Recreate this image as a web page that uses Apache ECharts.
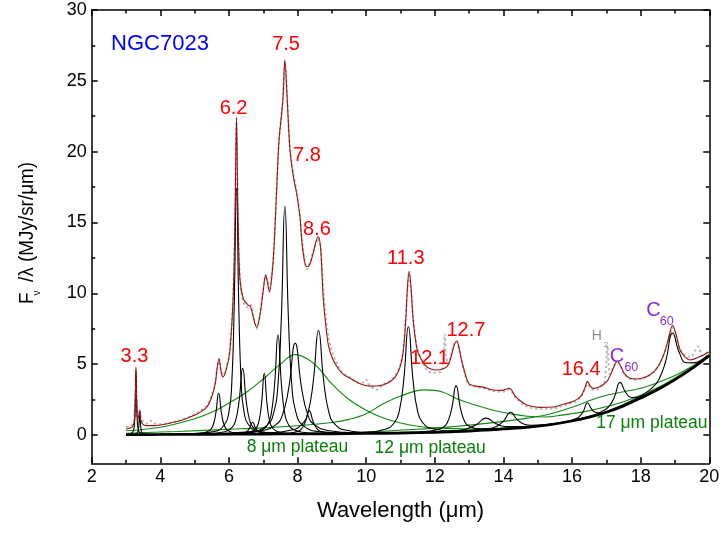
<!DOCTYPE html>
<html><head><meta charset="utf-8">
<script src="https://cdn.jsdelivr.net/npm/echarts@6/dist/echarts.min.js"></script>
<style>html,body{margin:0;padding:0;background:#fff}#c{width:720px;height:535px}</style>
</head><body><div id="c"></div>
<script>
// ---------- data ----------
const yMajorTicks = [0, 5, 10, 15, 20, 25, 30];
const yMinorTicks = [2.5, 7.5, 12.5, 17.5, 22.5, 27.5];

const observed = [[3.0,0.55],[3.1,0.62],[3.2,0.8],[3.25,1.5],[3.27,2.9],[3.29,4.7],[3.31,2.6],[3.34,1.3],[3.38,1.45],[3.40,1.8],[3.43,1.25],[3.5,0.95],[3.6,0.8],[3.7,1.0],[3.8,0.9],[3.9,0.75],[4.2,0.82],[4.5,0.98],[4.87,1.3],[5.1,1.6],[5.35,2.1],[5.5,2.8],[5.6,3.7],[5.65,4.6],[5.71,5.2],[5.77,4.5],[5.82,4.2],[5.92,4.7],[6.03,6.1],[6.13,10.2],[6.18,16],[6.22,22.3],[6.26,16],[6.32,11],[6.42,9.4],[6.56,9.0],[6.63,9.2],[6.72,8.3],[6.81,7.5],[6.9,8.5],[7.0,10.3],[7.07,11.2],[7.12,10.9],[7.18,10.2],[7.25,11.3],[7.31,13.1],[7.39,17.4],[7.46,20.8],[7.57,23.6],[7.63,26.3],[7.70,23.6],[7.78,20.2],[7.88,18.4],[7.97,17.2],[8.07,15.5],[8.12,14.0],[8.2,12.4],[8.27,11.7],[8.35,12.1],[8.45,12.9],[8.53,13.5],[8.6,13.9],[8.67,13.3],[8.75,10.2],[8.82,8.4],[8.9,6.9],[9.0,5.9],[9.14,5.1],[9.3,4.4],[9.53,4.05],[9.75,3.7],[9.92,3.7],[10.0,3.9],[10.1,3.5],[10.3,3.2],[10.5,3.6],[10.69,3.8],[10.85,4.2],[10.99,4.9],[11.08,6.0],[11.15,8.1],[11.2,10.2],[11.25,11.4],[11.3,10.5],[11.37,8.2],[11.45,6.6],[11.52,5.9],[11.76,4.6],[11.9,4.4],[12.06,4.4],[12.2,4.5],[12.26,5.6],[12.29,7.1],[12.33,5.6],[12.4,5.0],[12.47,5.6],[12.56,6.4],[12.64,6.6],[12.71,6.0],[12.78,5.2],[12.9,4.1],[13.0,3.55],[13.2,3.4],[13.41,3.3],[13.7,3.1],[13.95,3.05],[14.17,3.2],[14.34,2.7],[14.5,2.3],[14.68,2.0],[15.06,1.85],[15.45,1.85],[15.65,2.0],[16.04,2.3],[16.25,2.65],[16.37,3.2],[16.45,3.6],[16.53,3.35],[16.62,3.2],[16.8,3.3],[16.95,3.8],[17.03,6.3],[17.1,4.3],[17.2,4.8],[17.32,5.1],[17.42,4.8],[17.52,4.3],[17.69,3.95],[17.9,3.9],[18.18,4.1],[18.4,4.5],[18.56,5.0],[18.72,6.0],[18.85,7.1],[18.93,7.6],[19.02,7.1],[19.15,6.0],[19.3,5.6],[19.44,5.5],[19.6,6.0],[19.68,6.25],[19.8,5.6],[20.0,5.95]];

const totalFit = [[3.0,0.42],[3.1,0.48],[3.2,0.62],[3.25,1.1],[3.27,2.4],[3.29,4.78],[3.31,2.4],[3.34,1.15],[3.37,1.3],[3.40,1.75],[3.43,1.1],[3.48,0.78],[3.6,0.66],[3.8,0.66],[4.0,0.7],[4.3,0.85],[4.6,1.02],[4.87,1.28],[5.1,1.52],[5.35,1.95],[5.5,2.7],[5.6,3.6],[5.65,4.6],[5.71,5.4],[5.77,4.5],[5.82,4.1],[5.92,4.6],[6.03,6.0],[6.13,10.2],[6.18,16],[6.22,22.4],[6.26,16],[6.32,11],[6.42,9.6],[6.56,9.17],[6.63,9.05],[6.72,8.2],[6.81,7.6],[6.9,8.4],[7.0,10.2],[7.07,11.3],[7.12,10.8],[7.18,10.1],[7.25,11.2],[7.31,13.05],[7.39,17.3],[7.46,20.8],[7.57,23.6],[7.63,26.46],[7.70,23.6],[7.78,20.1],[7.88,18.2],[7.97,17.1],[8.07,15.4],[8.12,13.8],[8.2,12.3],[8.27,11.88],[8.35,12.0],[8.45,12.8],[8.53,13.6],[8.6,14.0],[8.67,13.2],[8.75,9.6],[8.82,7.8],[8.9,6.3],[9.0,5.5],[9.14,4.85],[9.3,4.35],[9.53,4.0],[9.75,3.7],[9.92,3.53],[10.1,3.45],[10.31,3.46],[10.5,3.55],[10.69,3.76],[10.85,4.1],[10.99,4.82],[11.08,5.9],[11.15,8.0],[11.2,10.3],[11.25,11.55],[11.3,10.6],[11.37,8.1],[11.45,6.5],[11.52,5.76],[11.76,4.82],[12.06,4.59],[12.35,4.82],[12.47,5.5],[12.56,6.3],[12.64,6.63],[12.71,6.1],[12.78,5.29],[12.9,4.2],[13.0,3.6],[13.2,3.45],[13.41,3.38],[13.7,3.18],[13.95,3.15],[14.17,3.3],[14.34,2.75],[14.5,2.4],[14.68,2.12],[15.06,1.95],[15.45,1.97],[15.65,2.1],[16.04,2.38],[16.25,2.72],[16.37,3.3],[16.45,3.78],[16.53,3.45],[16.62,3.29],[16.8,3.4],[17.01,3.76],[17.15,4.4],[17.32,5.2],[17.42,4.85],[17.52,4.35],[17.69,4.0],[17.9,3.95],[18.18,4.12],[18.4,4.5],[18.56,5.06],[18.72,6.0],[18.85,7.2],[18.93,7.75],[19.02,7.2],[19.15,6.0],[19.3,5.5],[19.44,5.29],[19.7,5.5],[20.0,5.88]];

const continuum = [[3,0.02],[4,0.03],[5,0.04],[6,0.05],[7,0.06],[8,0.07],[9,0.08],[10,0.1],[11,0.13],[12,0.18],[12.5,0.22],[13,0.27],[13.5,0.34],[14,0.42],[14.5,0.5],[15,0.62],[15.5,0.78],[16,0.98],[16.5,1.25],[17,1.6],[17.5,2.05],[18,2.6],[18.5,3.2],[19,3.9],[19.5,4.7],[20,5.6]];

const plateau8 = [[3.0,0.3],[4.0,0.55],[5.0,1.15],[5.5,1.6],[6.0,2.25],[6.5,3.0],[7.0,3.95],[7.5,5.0],[7.93,5.67],[8.3,5.35],[8.6,4.75],[9.0,3.6],[9.5,2.5],[10.0,1.75],[10.5,1.2],[11.0,0.85],[11.5,0.62],[12.0,0.5],[13.0,0.42],[14.0,0.5],[15.0,0.68],[16.0,1.02],[17.0,1.63],[18.0,2.62],[19.0,3.92],[20.0,5.62]];
const plateau12 = [[3.0,0.12],[4.5,0.25],[6.0,0.4],[7.0,0.5],[8.0,0.65],[9.0,0.88],[9.5,1.1],[10.0,1.5],[10.5,2.2],[11.0,2.75],[11.7,3.18],[12.2,3.05],[12.7,2.5],[13.2,2.1],[13.7,1.75],[14.2,1.5],[14.7,1.32],[15.2,1.27],[15.7,1.4],[16.5,1.72],[17.5,2.35],[18.5,3.35],[19.5,4.8],[20.0,5.68]];
const plateau17 = [[3.0,0.03],[6.0,0.06],[9.0,0.12],[11.5,0.4],[12.5,0.58],[13.5,0.82],[14.5,1.12],[15.3,1.45],[16.0,1.95],[16.6,2.5],[17.0,2.8],[17.5,3.05],[18.0,3.3],[18.5,3.7],[19.0,4.2],[19.5,4.85],[20.0,5.65]];

const band329 = [[3.0,0.04],[3.09,0.065],[3.19,0.19],[3.23,0.47],[3.25,0.92],[3.27,2.27],[3.29,4.52],[3.31,2.27],[3.33,0.92],[3.35,0.47],[3.39,0.19],[3.49,0.065],[3.69,0.03]];
const band340 = [[3.0,0.024],[3.2,0.036],[3.3,0.084],[3.34,0.185],[3.36,0.35],[3.38,0.845],[3.40,1.67],[3.42,0.845],[3.44,0.35],[3.46,0.185],[3.50,0.084],[3.60,0.036],[3.80,0.024]];
const band570 = [[4.0,0.057],[4.85,0.079],[5.275,0.16],[5.445,0.34],[5.53,0.63],[5.615,1.5],[5.70,2.95],[5.785,1.5],[5.87,0.63],[5.955,0.34],[6.125,0.16],[6.55,0.079],[7.4,0.057]];
const band622 = [[4.82,0.09],[5.52,0.22],[5.87,0.72],[6.01,1.79],[6.08,3.53],[6.15,8.75],[6.22,17.45],[6.29,8.75],[6.36,3.53],[6.43,1.79],[6.57,0.72],[6.92,0.22],[7.62,0.09]];
const band640 = [[4.3,0.062],[5.35,0.096],[5.875,0.23],[6.085,0.515],[6.19,0.98],[6.295,2.375],[6.40,4.70],[6.505,2.375],[6.61,0.98],[6.715,0.515],[6.925,0.23],[7.45,0.096],[8.5,0.062]];
const band669 = [[4.89,0.052],[5.79,0.058],[6.24,0.083],[6.42,0.135],[6.51,0.22],[6.60,0.475],[6.69,0.90],[6.78,0.475],[6.87,0.22],[6.96,0.135],[7.14,0.083],[7.59,0.058],[8.49,0.052]];
const band703 = [[5.43,0.071],[6.23,0.103],[6.63,0.225],[6.79,0.49],[6.87,0.92],[6.95,2.21],[7.03,4.36],[7.11,2.21],[7.19,0.92],[7.27,0.49],[7.43,0.225],[7.83,0.103],[8.63,0.071]];
const band743 = [[5.43,0.078],[6.43,0.13],[6.93,0.33],[7.13,0.76],[7.23,1.46],[7.33,3.56],[7.43,7.06],[7.53,3.56],[7.63,1.46],[7.73,0.76],[7.93,0.33],[8.43,0.13],[9.43,0.078]];
const band763 = [[5.53,0.10],[6.58,0.22],[7.105,0.68],[7.315,1.67],[7.42,3.28],[7.525,8.11],[7.63,16.16],[7.735,8.11],[7.84,3.28],[7.945,1.67],[8.155,0.68],[8.68,0.22],[9.73,0.10]];
const band793 = [[4.13,0.05],[6.03,0.12],[6.98,0.32],[7.36,0.71],[7.55,1.35],[7.74,3.27],[7.93,6.47],[8.12,3.27],[8.31,1.35],[8.50,0.71],[8.88,0.32],[9.83,0.16],[11.73,0.19]];
const band834 = [[5.94,0.07],[7.14,0.086],[7.74,0.134],[7.98,0.235],[8.10,0.40],[8.22,0.895],[8.34,1.72],[8.46,0.895],[8.58,0.40],[8.70,0.235],[8.94,0.134],[9.54,0.1],[10.74,0.13]];
const band861 = [[5.51,0.08],[7.06,0.14],[7.835,0.35],[8.145,0.80],[8.30,1.53],[8.455,3.72],[8.61,7.37],[8.765,3.72],[8.92,1.53],[9.075,0.80],[9.385,0.35],[10.16,0.18],[11.71,0.19]];
const band1123 = [[8.53,0.09],[9.88,0.17],[10.555,0.41],[10.825,0.88],[10.96,1.63],[11.095,3.89],[11.23,7.64],[11.365,3.90],[11.50,1.65],[11.635,0.91],[11.905,0.46],[12.58,0.30],[13.93,0.44]];
const band1262 = [[10.02,0.11],[11.32,0.18],[11.97,0.31],[12.23,0.53],[12.36,0.85],[12.49,1.84],[12.62,3.48],[12.75,1.86],[12.88,0.89],[13.01,0.60],[13.27,0.43],[13.92,0.44],[15.22,0.69]];
const band1349 = [[10.69,0.13],[12.09,0.22],[12.65,0.31],[12.93,0.43],[13.21,0.72],[13.49,1.19],[13.77,0.81],[14.05,0.60],[14.33,0.59],[14.89,0.63],[16.29,1.16]];
const band1421 = [[12.21,0.20],[13.21,0.34],[13.61,0.47],[13.81,0.61],[14.01,1.0],[14.21,1.60],[14.41,1.07],[14.61,0.76],[14.81,0.69],[15.21,0.72],[16.21,1.09]];
const band1645 = [[15.25,0.71],[15.85,0.96],[16.09,1.14],[16.21,1.30],[16.33,1.68],[16.45,2.27],[16.57,1.82],[16.69,1.58],[16.81,1.55],[17.05,1.68],[17.65,2.21]];
const band1740 = [[15.75,0.90],[16.575,1.37],[16.905,1.71],[17.07,2.0],[17.235,2.69],[17.40,3.71],[17.565,2.99],[17.73,2.65],[17.895,2.66],[18.225,2.94],[19.05,4.0]];
const band1893 = [[16.93,1.58],[17.93,2.65],[18.33,3.32],[18.53,3.92],[18.73,5.22],[18.93,7.2],[19.13,5.78],[19.33,5.10],[19.53,5.09],[19.93,5.61]];

const bands = [band329, band340, band570, band622, band640, band669, band703, band743, band763, band793, band834, band861, band1123, band1262, band1349, band1421, band1645, band1740, band1893];
const plateaus = [plateau8, plateau12, plateau17];

// ---------- annotations (text + anchor in data units) ----------
const annotations = [
  {text:'NGC7023', x:2.58, y:27.57, kind:'name'},
  {text:'7.5', x:7.68, y:27.5, kind:'band'},
  {text:'6.2', x:6.15, y:23.02, kind:'band'},
  {text:'7.8', x:8.29, y:19.67, kind:'band'},
  {text:'8.6', x:8.58, y:14.49, kind:'band'},
  {text:'11.3', x:11.17, y:12.41, kind:'band'},
  {text:'12.7', x:12.92, y:7.34, kind:'band'},
  {text:'12.1', x:11.86, y:5.33, kind:'band'},
  {text:'3.3', x:3.26, y:5.54, kind:'band'},
  {text:'16.4', x:16.28, y:4.61, kind:'band'},
  {text:'C', x:17.11, y:5.49, kind:'c60'},
  {text:'60', x:17.54, y:4.74, kind:'c60sub'},
  {text:'C', x:18.18, y:8.73, kind:'c60'},
  {text:'60', x:18.57, y:8.0, kind:'c60sub'},
  {text:'H', x:16.59, y:6.94, kind:'h2'},
  {text:'2', x:16.94, y:6.3, kind:'h2sub'},
  {text:'8 μm plateau', x:8.01, y:-0.92, kind:'plateau'},
  {text:'12 μm plateau', x:11.88, y:-0.99, kind:'plateau'},
  {text:'17 μm plateau', x:18.34, y:0.78, kind:'plateau'}
];

// ---------- styles ----------
const FONT = '"Liberation Sans", Arial, sans-serif';
const kindStyle = {
  name:{color:'#0000ff', fontSize:22, align:'left'},
  band:{color:'#ff0000', fontSize:20, align:'center'},
  c60:{color:'#8a2be2', fontSize:20, align:'left'},
  c60sub:{color:'#8a2be2', fontSize:12.5, align:'left'},
  h2:{color:'#909090', fontSize:14, align:'left'},
  h2sub:{color:'#909090', fontSize:8, align:'left'},
  plateau:{color:'#0a800a', fontSize:17.5, align:'center'}
};

const series = [];
series.push({type:'line', data:observed, showSymbol:false, symbol:'none', smooth:0.3, z:1,
  lineStyle:{color:'#b8b8b8', width:2, type:[2.5,2.5]}, silent:true});
plateaus.forEach(p => series.push({type:'line', data:p, symbol:'none', smooth:0.4, z:2,
  lineStyle:{color:'#108810', width:1.1}, silent:true}));
bands.forEach(b => series.push({type:'line', data:b, symbol:'none', smooth:0.5, z:3,
  lineStyle:{color:'#000', width:1.1}, silent:true}));
series.push({type:'line', data:continuum, symbol:'none', smooth:0.4, z:4,
  lineStyle:{color:'#000', width:2.6}, silent:true});
series.push({type:'line', data:totalFit, symbol:'none', smooth:0.35, z:5,
  lineStyle:{color:'#9a1414', width:1.1}, silent:true});
series.push({type:'scatter', z:10, silent:true, symbolSize:1, itemStyle:{color:'rgba(0,0,0,0)'},
  emphasis:{disabled:true},
  data: annotations.map(a => {
    const s = kindStyle[a.kind];
    return {value:[a.x, a.y], label:{show:true, position:[0,0], formatter:a.text, opacity:1,
      color:s.color, textBorderWidth:0, textBorderColor:'transparent', textShadowBlur:0,
      fontSize:s.fontSize, fontFamily:FONT, align:s.align, verticalAlign:'middle'}};
  })});

const axisCol = '#000';
function xAx(pos, labels){
  return {type:'value', min:2, max:20, interval:2, position:pos,
    axisLine:{show:true, onZero:false, lineStyle:{color:axisCol, width:1.5}},
    axisTick:{show:true, inside:true, length:6, lineStyle:{color:axisCol, width:1.5}},
    minorTick:{show:true, splitNumber:2, length:3.5, lineStyle:{color:axisCol, width:1.5}},
    splitLine:{show:false}, minorSplitLine:{show:false},
    axisLabel:{show:labels, color:'#000', fontSize:18, fontFamily:FONT, margin:5},
    name: labels ? 'Wavelength (μm)' : '', nameLocation:'middle', nameGap:37,
    nameTextStyle:{color:'#000', fontSize:22, fontFamily:FONT}};
}
function yAx(pos, ticks, len, labels, line){
  return {type:'value', min:-2, max:30, position:pos,
    axisLine:{show:line, onZero:false, lineStyle:{color:axisCol, width:1.5}},
    axisTick:{show:true, inside:true, length:len, customValues:ticks, lineStyle:{color:axisCol, width:1.5}},
    splitLine:{show:false},
    axisLabel:{show:labels, customValues:ticks, color:'#000', fontSize:18, fontFamily:FONT, margin:5}};
}

const chart = echarts.init(document.getElementById('c'), null, {renderer:'canvas'});
chart.setOption({
  animation:false,
  backgroundColor:'#fff',
  grid:{left:91.7, right:10.7, top:10, bottom:71.7, containLabel:false, outerBoundsMode:'none'},
  xAxis:[xAx('bottom', true), xAx('top', false)],
  yAxis:[yAx('left', yMajorTicks, 6, true, true), yAx('left', yMinorTicks, 3.5, false, false),
         yAx('right', yMajorTicks, 6, false, true), yAx('right', yMinorTicks, 3.5, false, false)],
  graphic:[
    {type:'text', x:27.5, y:233, rotation:Math.PI/2, scaleX:0.9, silent:true,
     style:{text:'F  /λ (MJy/sr/μm)', align:'center', verticalAlign:'middle', fill:'#000', fontSize:21, fontFamily:FONT}},
    {type:'text', x:37.5, y:293, rotation:Math.PI/2, silent:true,
     style:{text:'ν', align:'center', verticalAlign:'middle', fill:'#000', fontSize:10, fontFamily:FONT}}
  ],
  series: series
});
</script></body></html>
